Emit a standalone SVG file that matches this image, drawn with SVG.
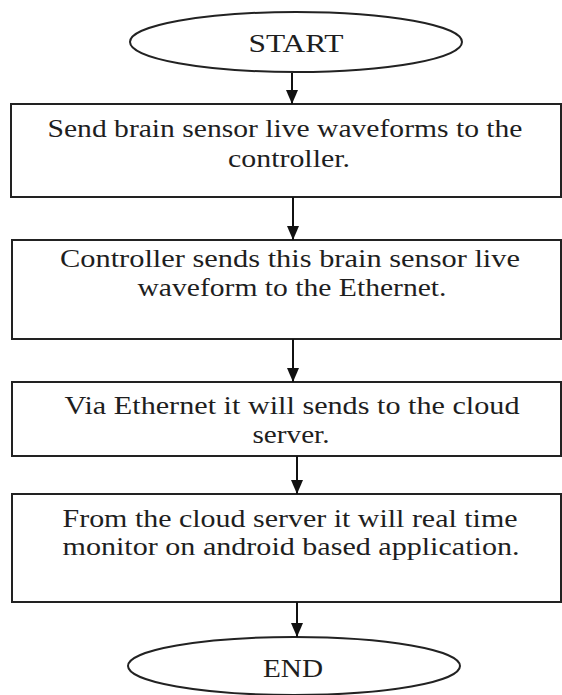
<svg xmlns="http://www.w3.org/2000/svg" width="562" height="695" viewBox="0 0 562 695">
<style>
.shape{fill:#fff;stroke:#222;stroke-width:2}
.t{font-family:"Liberation Serif","Times New Roman",serif;font-size:25px;fill:#1e1e1e;text-anchor:middle}
.edge{stroke:#111;stroke-width:2;fill:none}
</style>
<defs>
<marker id="ah" viewBox="0 0 14 12" refX="14" refY="6" markerWidth="14" markerHeight="12" markerUnits="userSpaceOnUse" orient="auto">
<path d="M0,0 L14,6 L0,12 z" fill="#111"/>
</marker>
</defs>
<rect width="562" height="695" fill="#fff"/>
<g id="start">
<ellipse class="shape" cx="296" cy="42" rx="166" ry="30"/>
<text class="t" x="296" y="52" textLength="95" lengthAdjust="spacingAndGlyphs">START</text>
</g>
<g id="step1">
<rect class="shape" x="11" y="104" width="550" height="93"/>
<text class="t" x="285" y="137" textLength="475" lengthAdjust="spacingAndGlyphs">Send brain sensor live waveforms to the</text>
<text class="t" x="289" y="167" textLength="122" lengthAdjust="spacingAndGlyphs">controller.</text>
</g>
<g id="step2">
<rect class="shape" x="12" y="240" width="549" height="99"/>
<text class="t" x="290" y="267" textLength="460" lengthAdjust="spacingAndGlyphs">Controller sends this brain sensor live</text>
<text class="t" x="292" y="296" textLength="309" lengthAdjust="spacingAndGlyphs">waveform to the Ethernet.</text>
</g>
<g id="step3">
<rect class="shape" x="12" y="382" width="549" height="74"/>
<text class="t" x="292" y="414" textLength="455" lengthAdjust="spacingAndGlyphs">Via Ethernet it will sends to the cloud</text>
<text class="t" x="291" y="443" textLength="77" lengthAdjust="spacingAndGlyphs">server.</text>
</g>
<g id="step4">
<rect class="shape" x="12" y="494" width="549" height="108"/>
<text class="t" x="290" y="527" textLength="455" lengthAdjust="spacingAndGlyphs">From the cloud server it will real time</text>
<text class="t" x="291" y="555" textLength="457" lengthAdjust="spacingAndGlyphs">monitor on android based application.</text>
</g>
<g id="end">
<ellipse class="shape" cx="294" cy="666" rx="166" ry="29"/>
<text class="t" x="293" y="677" textLength="60" lengthAdjust="spacingAndGlyphs">END</text>
</g>
<g id="connectors">
<line class="edge" x1="292" y1="73" x2="292" y2="104" marker-end="url(#ah)"/>
<line class="edge" x1="293" y1="197" x2="293" y2="240" marker-end="url(#ah)"/>
<line class="edge" x1="293" y1="339" x2="293" y2="382" marker-end="url(#ah)"/>
<line class="edge" x1="297" y1="456" x2="297" y2="494" marker-end="url(#ah)"/>
<line class="edge" x1="297" y1="602" x2="297" y2="637" marker-end="url(#ah)"/>
</g>
</svg>
